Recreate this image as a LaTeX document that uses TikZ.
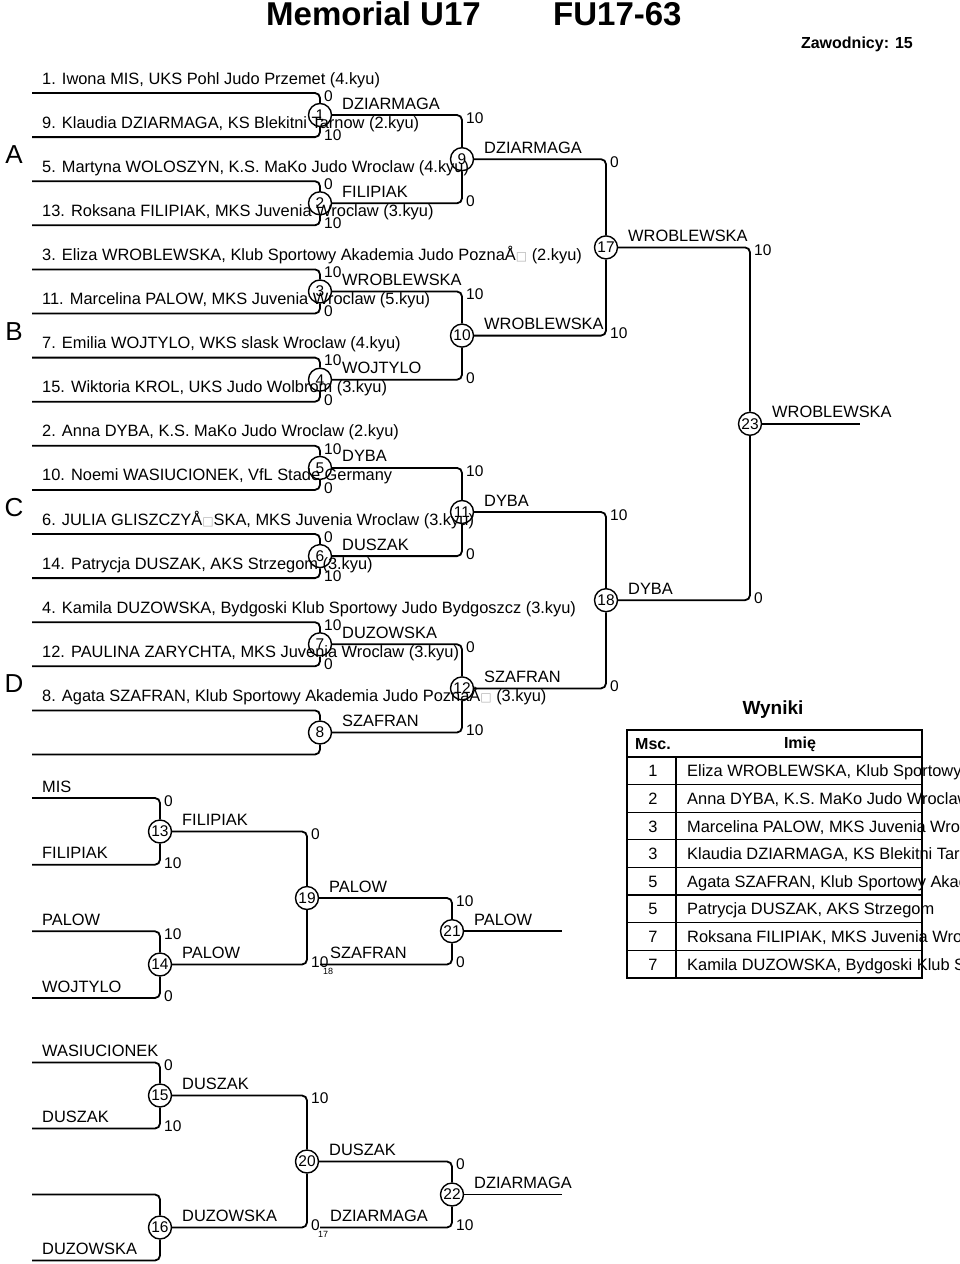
\documentclass[tikz,border=0pt]{standalone}
\usepackage{fontspec}
\setmainfont{Liberation Sans}
\newfontfamily\gapfont{DejaVu Sans}
\newcommand{\gapch}{{\gapfont\fontsize{12}{12}\selectfont\textcolor{black!30}{□}}}

\begin{document}
\begin{tikzpicture}[x=1pt, y=-1pt,
  every node/.style={inner sep=0pt, font=\fontsize{16.4}{19}\selectfont},
  bracket/.style={line width=1.8pt, rounded corners=5pt},
  bout/.style={circle, draw, line width=1.4pt, minimum size=23pt, font=\fontsize{15.5}{15.5}\selectfont},
  entrant/.style={anchor=base west},
  winner/.style={anchor=base west},
  score/.style={anchor=west, font=\fontsize{15.5}{15.5}\selectfont},
  pool/.style={font=\fontsize{26}{26}\selectfont},
  tabhead/.style={font=\fontsize{16}{19}\selectfont\bfseries},
  tabrule/.style={line width=1.3pt}]
  \useasboundingbox (0,0) rectangle (960,1264);

  % Header
  \node[font=\fontsize{33}{36}\selectfont\bfseries, anchor=west] (title) at (266,14) {Memorial U17};
  \node[font=\fontsize{33}{36}\selectfont\bfseries, anchor=west] (weight) at (553,14) {FU17-63};
  \node[font=\fontsize{16}{19}\selectfont\bfseries, anchor=east] (count) at (913,44) {Zawodnicy: 15};

  % Pools
  \node[pool] (poolA) at (14,155) {A};
  \node[pool] (poolB) at (14,332) {B};
  \node[pool] (poolC) at (14,508) {C};
  \node[pool] (poolD) at (14,684) {D};

  % Main bracket bouts
  \foreach \n/\x/\y in {1/320/115, 2/320/203.3, 3/320/291.5, 4/320/379.7,
      5/320/467.9, 6/320/556.1, 7/320/644.3, 8/320/732.5,
      9/462/159.2, 10/462/335.6, 11/462/512, 12/462/688.4,
      17/606/247.4, 18/606/600.2, 23/750/423.8}
    \node[bout] (m\n) at (\x,\y) {\n};

  % Repechage bouts
  \foreach \n/\x/\y in {13/160/831.5, 14/160/964.5, 19/307/898, 21/452/931.2,
      15/160/1095.5, 16/160/1227.5, 20/307/1161.5, 22/452/1194.5}
    \node[bout] (m\n) at (\x,\y) {\n};

  % Entrants
  \foreach \i/\txt in {0/{1. Iwona MIS, UKS Pohl Judo Przemet (4.kyu)},
      1/{9. Klaudia DZIARMAGA, KS Blekitni Tarnow (2.kyu)},
      2/{5. Martyna WOLOSZYN, K.S. MaKo Judo Wroclaw (4.kyu)},
      3/{13. Roksana FILIPIAK, MKS Juvenia Wroclaw (3.kyu)},
      4/{3. Eliza WROBLEWSKA, Klub Sportowy Akademia Judo PoznaÅ\gapch{} (2.kyu)},
      5/{11. Marcelina PALOW, MKS Juvenia Wroclaw (5.kyu)},
      6/{7. Emilia WOJTYLO, WKS slask Wroclaw (4.kyu)},
      7/{15. Wiktoria KROL, UKS Judo Wolbrom (3.kyu)},
      8/{2. Anna DYBA, K.S. MaKo Judo Wroclaw (2.kyu)},
      9/{10. Noemi WASIUCIONEK, VfL Stade Germany},
      10/{6. JULIA GLISZCZYÅ\gapch{}SKA, MKS Juvenia Wroclaw (3.kyu)},
      11/{14. Patrycja DUSZAK, AKS Strzegom (3.kyu)},
      12/{4. Kamila DUZOWSKA, Bydgoski Klub Sportowy Judo Bydgoszcz (3.kyu)},
      13/{12. PAULINA ZARYCHTA, MKS Juvenia Wroclaw (3.kyu)},
      14/{8. Agata SZAFRAN, Klub Sportowy Akademia Judo PoznaÅ\gapch{} (3.kyu)}}
    \node[entrant] (t\i) at (42,{84+44.1*\i}) {\txt};

  \foreach \i/\m in {0/1, 1/1, 2/2, 3/2, 4/3, 5/3, 6/4, 7/4,
      8/5, 9/5, 10/6, 11/6, 12/7, 13/7, 14/8, 15/8}{
    \coordinate (e\i) at (32,{93+44.1*\i});
    \draw[bracket] (e\i) -| (m\m);
  }

  % Repechage entrants
  \foreach \i/\y/\txt in {0/798/MIS, 1/864.7/FILIPIAK, 2/931.3/PALOW, 3/998/WOJTYLO,
      4/1062.5/WASIUCIONEK, 5/1128.5/DUSZAK, 7/1260.5/DUZOWSKA}
    \node[entrant] (u\i) at (42,{\y-6}) {\txt};

  \foreach \i/\y/\m in {0/798/13, 1/864.7/13, 2/931.3/14, 3/998/14,
      4/1062.5/15, 5/1128.5/15, 6/1194.5/16, 7/1260.5/16}{
    \coordinate (q\i) at (32,\y);
    \draw[bracket] (q\i) -| (m\m);
  }

  % Bouts to next bouts
  \foreach \a/\b in {1/9, 2/9, 3/10, 4/10, 5/11, 6/11, 7/12, 8/12,
      9/17, 10/17, 11/18, 12/18, 17/23, 18/23,
      13/19, 14/19, 19/21, 15/20, 16/20, 20/22}
    \draw[bracket] (m\a) -| (m\b);

  % Losers of the semifinals
  \coordinate (l18) at (320,964.5);
  \coordinate (l17) at (320,1227.5);
  \draw[bracket] (l18) -| (m21);
  \draw[bracket] (l17) -| (m22);
  \node[winner] (s18) at (330,958.5) {SZAFRAN};
  \node[winner] (s17) at (330,1221.5) {DZIARMAGA};
  \node[anchor=west, font=\fontsize{9}{9}\selectfont] (ref18) at (323,971) {18};
  \node[anchor=west, font=\fontsize{9}{9}\selectfont] (ref17) at (318,1234) {17};

  % Final lines
  \coordinate (fin) at (860,423.8);
  \coordinate (o21) at (562,931.2);
  \coordinate (o22) at (562,1194.5);
  \draw[bracket] (m23) -- (fin);
  \draw[bracket] (m21) -- (o21);
  \draw[bracket] (m22) -- (o22);

  % Winners
  \foreach \n/\w in {1/DZIARMAGA, 2/FILIPIAK, 3/WROBLEWSKA, 4/WOJTYLO,
      5/DYBA, 6/DUSZAK, 7/DUZOWSKA, 8/SZAFRAN, 9/DZIARMAGA, 10/WROBLEWSKA,
      11/DYBA, 12/SZAFRAN, 17/WROBLEWSKA, 18/DYBA, 23/WROBLEWSKA,
      13/FILIPIAK, 14/PALOW, 19/PALOW, 21/PALOW, 15/DUSZAK, 16/DUZOWSKA,
      20/DUSZAK, 22/DZIARMAGA}
    \node[winner] (w\n) at ([shift={(22,-6)}]m\n.center) {\w};

  % Scores
  \foreach \n/\d/\u/\l in {1/22.05/0/10, 2/22.05/0/10, 3/22.05/10/0, 4/22.05/10/0,
      5/22.05/10/0, 6/22.05/0/10, 7/22.05/10/0, 9/44.1/10/0, 10/44.1/10/0,
      11/44.1/10/0, 12/44.1/0/10, 17/88.2/0/10, 18/88.2/10/0, 23/176.4/10/0,
      13/33.3/0/10, 14/33.3/10/0, 15/33/0/10, 19/66.5/0/10, 20/66/10/0,
      21/33.25/10/0, 22/33/0/10}{
    \node[score] (su\n) at ([shift={(4,{3-\d})}]m\n.center) {\u};
    \node[score] (sl\n) at ([shift={(4,{\d-2})}]m\n.center) {\l};
  }

  % Results
  \node[font=\fontsize{19}{19}\selectfont\bfseries] (wyniki) at (773,710) {Wyniki};
  \node[tabhead] (msc) at (653,744) {Msc.};
  \node[tabhead] (imie) at (800,744) {Imię};
  \foreach \k/\p/\txt in {1/1/{Eliza WROBLEWSKA, Klub Sportowy},
      2/2/{Anna DYBA, K.S. MaKo Judo Wroclaw},
      3/3/{Marcelina PALOW, MKS Juvenia Wroclaw},
      4/3/{Klaudia DZIARMAGA, KS Blekitni Tarnow},
      5/5/{Agata SZAFRAN, Klub Sportowy Akademia},
      6/5/{Patrycja DUSZAK, AKS Strzegom},
      7/7/{Roksana FILIPIAK, MKS Juvenia Wroclaw},
      8/7/{Kamila DUZOWSKA, Bydgoski Klub Sportowy}}{
    \node[anchor=base] (place\k) at (653,{749.2+27.6*\k}) {\p};
    \node[anchor=base west] (res\k) at (687,{749.2+27.6*\k}) {\txt};
  }
  \foreach \k in {0,...,7}
    \draw[tabrule] (627,{757+27.6*\k}) -- (922,{757+27.6*\k});
  \draw[tabrule] (676,757) -- (676,978);
  \draw[line width=2.6pt] (627,730) rectangle (922,978);
\end{tikzpicture}
\end{document}
